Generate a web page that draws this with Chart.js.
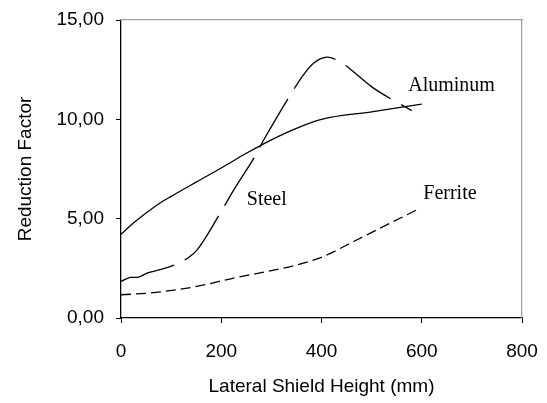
<!DOCTYPE html>
<html>
<head>
<meta charset="utf-8">
<script src="https://cdn.jsdelivr.net/npm/chart.js@4/dist/chart.umd.min.js"></script>
<style>
  html, body { margin: 0; padding: 0; background: #fff; }
  #wrap { width: 547px; height: 403px; }
</style>
</head>
<body>
<div id="wrap"><canvas id="chart" width="547" height="403"></canvas></div>
<script>
// values
const aluminumX = [0, 25, 50, 75, 100, 150, 200, 250, 300, 350, 400, 500, 600];
const aluminumY = [4.22, 4.78, 5.28, 5.74, 6.12, 6.84, 7.55, 8.29, 8.97, 9.55, 10.0, 10.38, 10.77];

const steelX = [0, 19, 35, 52, 78, 108, 135, 152, 198, 225, 265, 285, 344, 364, 384, 411, 437, 477, 501, 580];
const steelY = [1.84, 2.04, 2.06, 2.26, 2.43, 2.68, 3.05, 3.43, 5.28, 6.45, 8.05, 8.97, 11.48, 12.24, 12.82, 13.13, 12.9, 12.12, 11.62, 10.44];

const ferriteX = [0, 58, 145, 225, 344, 404, 464, 524, 597];
const ferriteY = [1.17, 1.26, 1.56, 2.01, 2.63, 3.10, 3.85, 4.61, 5.53];

// curve labels, placed in data units (left edge, baseline)
const curveNames = ['Aluminum', 'Steel', 'Ferrite'];
const curveLabelX = [573, 251, 603];
const curveLabelY = [11.44, 5.70, 5.98];

const xTicks = [0, 200, 400, 600, 800];
const yTicks = [0, 5, 10, 15];

function toPoints(xs, ys) {
    return xs.map((x, i) => ({ x: x, y: ys[i] }));
}

// fixed box sizes so the plot area sits where it does in the picture
function fixBox(w, h) {
    return s => {
        if (w !== null) s.width = w;
        if (h !== null) s.height = h;
        s.paddingTop = 0; s.paddingBottom = 0;
        s.paddingLeft = 0; s.paddingRight = 0;
    };
}

const sans = "'Liberation Sans', Arial, sans-serif";

const curveLabels = {
    id: 'curveLabels',
    afterDatasetsDraw(chart) {
        const ctx = chart.ctx;
        const xs = chart.scales.x;
        const ys = chart.scales.y;
        ctx.save();
        ctx.fillStyle = '#000';
        ctx.font = "20px 'Liberation Serif', 'Times New Roman', serif";
        ctx.textAlign = 'left';
        ctx.textBaseline = 'alphabetic';
        curveNames.forEach((name, i) => {
            ctx.fillText(name, xs.getPixelForValue(curveLabelX[i]), ys.getPixelForValue(curveLabelY[i]));
        });
        ctx.restore();
    }
};

const lineStyle = {
    borderColor: '#000',
    borderWidth: 1.3,
    pointRadius: 0,
    fill: false,
    cubicInterpolationMode: 'monotone'
};

new Chart(document.getElementById('chart').getContext('2d'), {
    type: 'line',
    data: {
        datasets: [
            Object.assign({ label: 'Aluminum', data: toPoints(aluminumX, aluminumY) }, lineStyle),
            Object.assign({ label: 'Steel', data: toPoints(steelX, steelY), borderDash: [56, 12] }, lineStyle),
            Object.assign({ label: 'Ferrite', data: toPoints(ferriteX, ferriteY), borderDash: [10, 5] }, lineStyle)
        ]
    },
    options: {
        responsive: false,
        animation: false,
        layout: { padding: 0 },
        plugins: {
            legend: { display: false },
            tooltip: { enabled: false }
        },
        scales: {
            x: {
                type: 'linear',
                position: 'bottom',
                min: 0,
                max: 800,
                afterBuildTicks: s => { s.ticks = xTicks.map(v => ({ value: v })); },
                afterFit: fixBox(null, 85),
                grid: { display: true, drawOnChartArea: false, drawTicks: true, tickLength: 5, tickColor: '#000' },
                border: { display: true, color: '#000', width: 1.3 },
                ticks: { color: '#000', font: { family: sans, size: 19 }, padding: 17, maxRotation: 0 },
                title: { display: true, text: 'Lateral Shield Height (mm)', color: '#000',
                         font: { family: sans, size: 19 }, padding: { top: 0, bottom: 5 } }
            },
            y: {
                type: 'linear',
                position: 'left',
                min: 0,
                max: 15,
                afterBuildTicks: s => { s.ticks = yTicks.map(v => ({ value: v })); },
                afterFit: fixBox(121, null),
                grid: { display: true, drawOnChartArea: false, drawTicks: true, tickLength: 5, tickColor: '#000' },
                border: { display: true, color: '#000', width: 1.3 },
                ticks: {
                    color: '#000',
                    font: { family: sans, size: 19 },
                    padding: 12,
                    callback: v => v.toFixed(2).replace('.', ',')
                },
                title: { display: true, text: 'Reduction Factor', color: '#000',
                         font: { family: sans, size: 19 }, padding: { top: 14, bottom: 0 } }
            },
            xTop: {
                type: 'linear',
                position: 'top',
                min: 0,
                max: 800,
                afterFit: fixBox(null, 20),
                grid: { display: false },
                ticks: { display: false },
                border: { display: true, color: '#a0a0a0', width: 1.3 }
            },
            yRight: {
                type: 'linear',
                position: 'right',
                min: 0,
                max: 15,
                afterFit: fixBox(25, null),
                grid: { display: false },
                ticks: { display: false },
                border: { display: true, color: '#a0a0a0', width: 1.3 }
            }
        }
    },
    plugins: [curveLabels]
});
</script>
</body>
</html>
